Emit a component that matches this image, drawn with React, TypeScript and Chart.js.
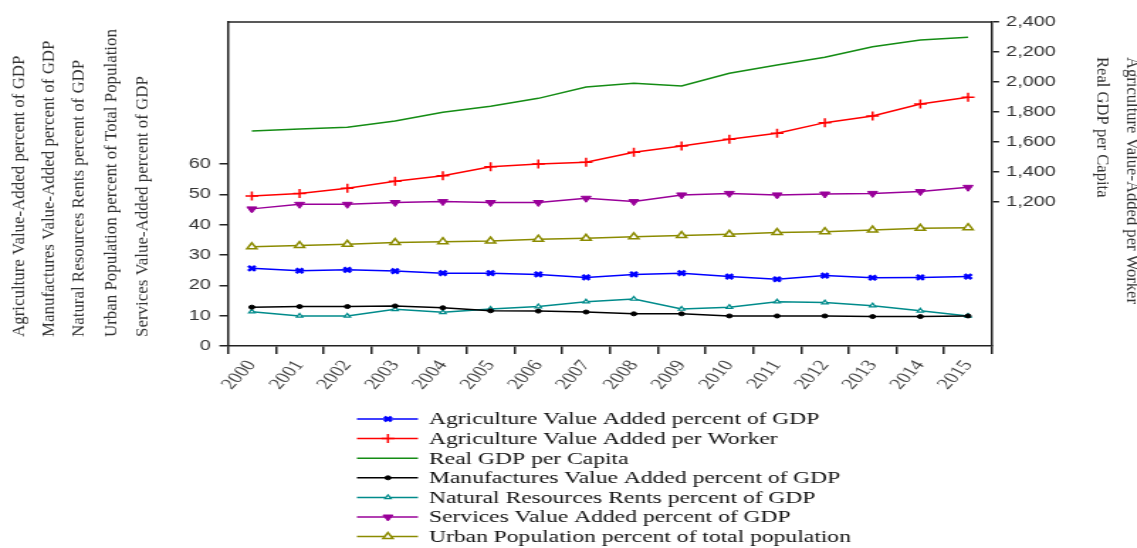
import React, { useEffect, useRef } from 'react';
import { Chart, registerables } from 'chart.js';
import { drawPoint } from 'chart.js/helpers';

Chart.register(...registerables);

// ---------- data ----------
const years = ['2000', '2001', '2002', '2003', '2004', '2005', '2006', '2007', '2008', '2009', '2010', '2011', '2012', '2013', '2014', '2015'];
const agriPctGdp = [25.6, 24.8, 25.1, 24.7, 24.0, 24.0, 23.6, 22.6, 23.6, 24.0, 22.9, 22.0, 23.2, 22.5, 22.6, 22.9];
const agriPerWorker = [1240, 1257, 1291, 1338, 1375, 1435, 1453, 1465, 1531, 1573, 1618, 1658, 1729, 1773, 1853, 1898];
const realGdpPerCapita = [1673, 1687, 1698, 1740, 1798, 1838, 1891, 1967, 1991, 1973, 2058, 2113, 2165, 2235, 2280, 2298];
const manufPctGdp = [12.8, 13.0, 13.0, 13.2, 12.6, 11.6, 11.5, 11.2, 10.6, 10.6, 9.9, 9.9, 9.9, 9.7, 9.7, 9.9];
const natResRentsPctGdp = [11.3, 9.9, 9.9, 12.1, 11.1, 12.2, 13.0, 14.6, 15.5, 12.2, 12.8, 14.6, 14.3, 13.3, 11.6, 9.9];
const servicesPctGdp = [45.2, 46.7, 46.7, 47.3, 47.6, 47.3, 47.3, 48.7, 47.6, 49.8, 50.3, 49.8, 50.1, 50.3, 50.9, 52.3];
const urbanPopPct = [32.7, 33.1, 33.5, 34.1, 34.4, 34.6, 35.2, 35.5, 36.0, 36.4, 36.8, 37.4, 37.7, 38.2, 38.8, 39.0];

const leftTicks = [0, 10, 20, 30, 40, 50, 60];
const rightTicks = [1200, 1400, 1600, 1800, 2000, 2200, 2400];

const seriesLabels = [
  'Agriculture Value Added percent of GDP',
  'Agriculture Value Added per Worker',
  'Real GDP per Capita',
  'Manufactures Value Added percent of GDP',
  'Natural Resources Rents percent of GDP',
  'Services Value Added percent of GDP',
  'Urban Population percent of total population',
];

const leftTitles = [
  'Agriculture Value-Added percent of GDP',
  'Manufactures Value-Added percent of GDP',
  'Natural Resources Rents percent of GDP',
  'Urban Population percent of Total Population',
  'Services Value-Added percent of GDP',
];
const rightTitles = ['Real GDP per Capita', 'Agriculture Value-Added per Worker'];

// ---------- layout (page px, canvas is stretched horizontally) ----------
const PAGE_W = 1137;
const PAGE_H = 548;
const W = 801;
const SX = PAGE_W / W;
const px = (x: number) => x / SX;

const AXIS = '#222';
const SERIF = '"Liberation Serif", "Times New Roman", serif';
const SANS = '"Liberation Sans", Arial, sans-serif';

type Style = {
  color: string;
  pointStyle: any;
  radius: number;
  rotation: number;
  bg: string;
  pbw: number;
  axis: string;
};

const styles: Style[] = [
  { color: '#0000ff', pointStyle: 'crossRot', radius: 3.5, rotation: 0, bg: '#0000ff', pbw: 2.5, axis: 'y' },
  { color: '#ff0000', pointStyle: 'cross', radius: 4.5, rotation: 0, bg: '#ff0000', pbw: 1.5, axis: 'y1' },
  { color: '#148c14', pointStyle: false, radius: 0, rotation: 0, bg: '#148c14', pbw: 0, axis: 'y1' },
  { color: '#000000', pointStyle: 'circle', radius: 2, rotation: 0, bg: '#000000', pbw: 1, axis: 'y' },
  { color: '#008b8b', pointStyle: 'triangle', radius: 2.5, rotation: 0, bg: '#ffffff', pbw: 1.2, axis: 'y' },
  { color: '#990099', pointStyle: 'triangle', radius: 4, rotation: 180, bg: '#990099', pbw: 1, axis: 'y' },
  { color: '#8b8b00', pointStyle: 'triangle', radius: 4, rotation: 0, bg: '#ffffff', pbw: 1.5, axis: 'y' },
];

const seriesData = [agriPctGdp, agriPerWorker, realGdpPerCapita, manufPctGdp, natResRentsPctGdp, servicesPctGdp, urbanPopPct];

const decorPlugin = {
  id: 'decor',
  afterDraw(chart: any) {
    const ctx: CanvasRenderingContext2D = chart.ctx;
    const { left, right, top } = chart.chartArea;
    ctx.save();
    // top frame line
    ctx.strokeStyle = AXIS;
    ctx.lineWidth = 1.5;
    ctx.beginPath();
    ctx.moveTo(left, top);
    ctx.lineTo(right, top);
    ctx.stroke();

    // left axis titles (vertical, bottom-up)
    const leftX = [20, 50, 80, 112, 143];
    ctx.fillStyle = '#333';
    ctx.font = `16.9px ${SERIF}`;
    ctx.textAlign = 'left';
    ctx.textBaseline = 'middle';
    leftTitles.forEach((t, i) => {
      ctx.save();
      ctx.translate(px(leftX[i]), 337);
      ctx.scale(1 / SX, 1);
      ctx.rotate(-Math.PI / 2);
      ctx.fillText(t, 0, 0);
      ctx.restore();
    });
    // right axis titles (vertical, top-down)
    ctx.font = `16.6px ${SERIF}`;
    const rightX = [1102, 1131];
    rightTitles.forEach((t, i) => {
      ctx.save();
      ctx.translate(px(rightX[i]), 57);
      ctx.scale(1 / SX, 1);
      ctx.rotate(Math.PI / 2);
      ctx.fillText(t, 0, 0);
      ctx.restore();
    });

    // legend
    const x0 = px(357), x1 = px(418), xm = px(388), xt = px(429);
    ctx.font = `16.6px ${SERIF}`;
    chart.data.datasets.forEach((ds: any, i: number) => {
      const st = styles[i];
      const y = 419 + 19.6 * i;
      ctx.strokeStyle = st.color;
      ctx.lineWidth = 1.5;
      ctx.beginPath();
      ctx.moveTo(x0, y);
      ctx.lineTo(x1, y);
      ctx.stroke();
      if (st.pointStyle) {
        ctx.save();
        ctx.strokeStyle = st.color;
        ctx.fillStyle = st.bg;
        ctx.lineWidth = st.pbw;
        drawPoint(ctx, { pointStyle: st.pointStyle, rotation: st.rotation, radius: st.radius, borderWidth: st.pbw }, xm, y);
        ctx.restore();
      }
      ctx.fillStyle = '#111';
      ctx.textAlign = 'left';
      ctx.textBaseline = 'middle';
      ctx.fillText(ds.label, xt, y + 1);
    });
    ctx.restore();
  },
};

export default function App() {
  const ref = useRef<HTMLCanvasElement>(null);
  useEffect(() => {
    const canvas = ref.current!;
    canvas.width = W;
    canvas.height = PAGE_H;
    const chart = new Chart(canvas, {
      type: 'line',
      data: {
        labels: years,
        datasets: seriesData.map((d, i) => ({
          label: seriesLabels[i],
          data: d,
          yAxisID: styles[i].axis,
          borderColor: styles[i].color,
          backgroundColor: styles[i].bg,
          borderWidth: 1.5,
          tension: 0,
          fill: false,
          pointStyle: styles[i].pointStyle,
          pointRadius: styles[i].radius,
          pointRotation: styles[i].rotation,
          pointBorderColor: styles[i].color,
          pointBackgroundColor: styles[i].bg,
          pointBorderWidth: styles[i].pbw,
        })),
      },
      options: {
        responsive: false,
        animation: false,
        devicePixelRatio: 1,
        events: [],
        layout: { padding: { top: 22, left: 0, right: 0, bottom: 0 } },
        plugins: { legend: { display: false }, tooltip: { enabled: false }, title: { display: false } },
        scales: {
          x: {
            type: 'category',
            offset: true,
            grid: { offset: true, drawOnChartArea: false, tickLength: 8, color: AXIS, lineWidth: 1.5 },
            border: { color: AXIS, width: 1.5 },
            ticks: {
              autoSkip: false,
              maxRotation: 55,
              minRotation: 55,
              padding: 3,
              color: '#444',
              font: { family: SERIF, size: 15.5 },
            },
            afterFit: (s: any) => { s.height = PAGE_H - 346; },
          },
          y: {
            position: 'left',
            min: 0,
            max: 106.8,
            grid: { drawOnChartArea: false, tickLength: 6, color: AXIS, lineWidth: 1.5 },
            border: { color: AXIS, width: 1.5 },
            ticks: { padding: 6, color: '#333', font: { family: SANS, size: 14 } },
            afterBuildTicks: (s: any) => { s.ticks = leftTicks.map((v) => ({ value: v })); },
            afterFit: (s: any) => { s.width = px(228); },
          },
          y1: {
            position: 'right',
            min: 240,
            max: 2400,
            grid: { drawOnChartArea: false, tickLength: 5, color: AXIS, lineWidth: 1.5 },
            border: { color: AXIS, width: 1.5 },
            ticks: { padding: 5, color: '#333', font: { family: SANS, size: 14 } },
            afterBuildTicks: (s: any) => { s.ticks = rightTicks.map((v) => ({ value: v })); },
            afterFit: (s: any) => { s.width = W - px(992); },
          },
        },
      } as any,
      plugins: [decorPlugin],
    });
    return () => chart.destroy();
  }, []);
  return (
    <canvas
      ref={ref}
      width={W}
      height={PAGE_H}
      style={{ position: 'fixed', left: 0, top: 0, width: `${PAGE_W}px`, height: `${PAGE_H}px`, background: '#fff' }}
    />
  );
}
